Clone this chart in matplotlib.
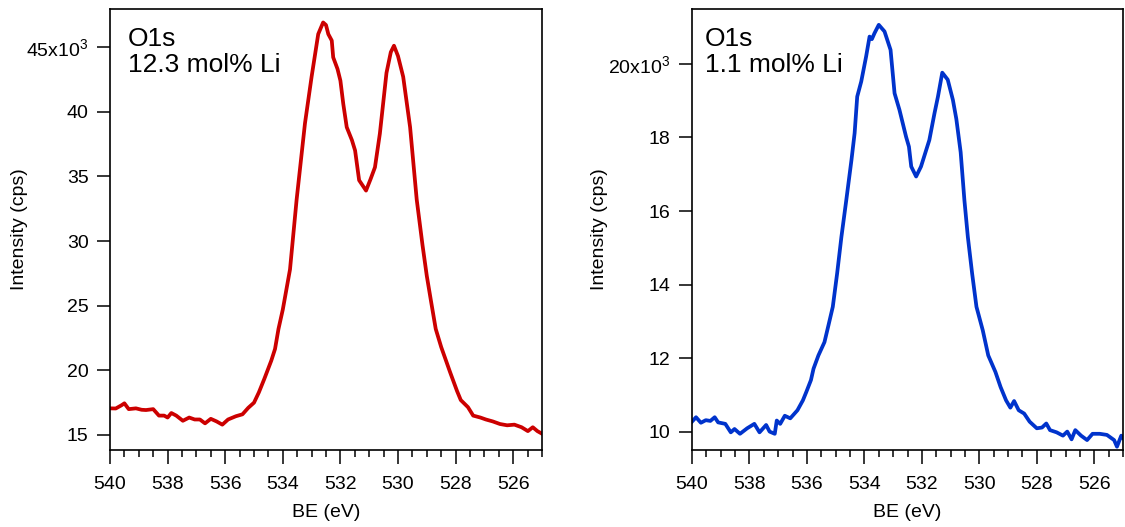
import matplotlib
matplotlib.use('Agg')
import matplotlib.pyplot as plt
from matplotlib.ticker import MultipleLocator, FixedLocator, FixedFormatter

plt.rcParams['font.family'] = ['Liberation Sans', 'DejaVu Sans']
plt.rcParams['mathtext.fontset'] = 'custom'
plt.rcParams['mathtext.rm'] = 'Liberation Sans'
plt.rcParams['mathtext.it'] = 'Liberation Sans'

# O1s, 12.3 mol% Li  (BE in eV, intensity in 10^3 cps)
be_high = [540.0, 539.8, 539.6, 539.5, 539.35, 539.1, 538.9, 538.75, 538.5, 538.3,
           538.12, 538.0, 537.87, 537.7, 537.47, 537.25, 537.06, 536.88, 536.7, 536.5,
           536.3, 536.1, 535.9, 535.63, 535.4, 535.2, 535.0, 534.83, 534.64, 534.4,
           534.27, 534.15, 534.0, 533.75, 533.52, 533.23, 533.0, 532.77, 532.6, 532.5,
           532.42, 532.3, 532.25, 532.1, 532.0, 531.9, 531.78, 531.6, 531.49, 531.35,
           531.11, 530.95, 530.8, 530.63, 530.4, 530.25, 530.14, 530.0, 529.82, 529.58,
           529.35, 529.15, 529.0, 528.85, 528.69, 528.5, 528.19, 527.95, 527.82, 527.57,
           527.39, 527.14, 526.95, 526.71, 526.46, 526.21, 525.96, 525.71, 525.49, 525.32,
           525.16, 525.0]
cps_high = [17.06, 17.05, 17.3, 17.45, 17.0, 17.06, 16.95, 16.93, 17.0, 16.5,
            16.5, 16.35, 16.7, 16.5, 16.1, 16.35, 16.2, 16.2, 15.9, 16.25,
            16.05, 15.8, 16.2, 16.45, 16.6, 17.1, 17.5, 18.3, 19.35, 20.75,
            21.65, 23.2, 24.7, 27.8, 33.2, 39.1, 42.7, 46.0, 46.9, 46.7,
            46.0, 45.5, 44.2, 43.3, 42.4, 40.6, 38.8, 37.8, 37.0, 34.7,
            33.9, 34.8, 35.7, 38.3, 43.0, 44.6, 45.1, 44.3, 42.7, 38.8,
            33.2, 29.7, 27.3, 25.3, 23.2, 21.8, 19.85, 18.4, 17.7, 17.15,
            16.5, 16.35, 16.2, 16.05, 15.85, 15.75, 15.8, 15.6, 15.3, 15.6,
            15.3, 15.1]

# O1s, 1.1 mol% Li
be_low = [540.0, 539.86, 539.69, 539.52, 539.36, 539.21, 539.09, 538.84, 538.65, 538.52,
          538.33, 538.08, 537.83, 537.65, 537.42, 537.3, 537.12, 537.05, 536.93, 536.77,
          536.58, 536.33, 536.14, 536.02, 535.86, 535.77, 535.6, 535.39, 535.25, 535.1,
          534.95, 534.8, 534.63, 534.45, 534.34, 534.25, 534.11, 533.94, 533.82, 533.74,
          533.65, 533.5, 533.3, 533.09, 532.95, 532.78, 532.55, 532.45, 532.37, 532.2,
          532.03, 531.74, 531.56, 531.44, 531.29, 531.1, 530.92, 530.8, 530.65, 530.52,
          530.4, 530.25, 530.1, 529.88, 529.69, 529.44, 529.26, 529.07, 528.92, 528.79,
          528.63, 528.44, 528.25, 528.0, 527.82, 527.67, 527.54, 527.31, 527.09, 526.94,
          526.79, 526.66, 526.46, 526.25, 526.06, 525.81, 525.56, 525.31, 525.21, 525.06,
          525.0]
cps_low = [10.28, 10.4, 10.25, 10.32, 10.3, 10.4, 10.26, 10.22, 9.99, 10.08,
           9.95, 10.1, 10.22, 9.99, 10.19, 10.01, 9.95, 10.31, 10.22, 10.44,
           10.37, 10.59, 10.86, 11.09, 11.41, 11.72, 12.08, 12.44, 12.9, 13.4,
           14.3, 15.3, 16.3, 17.39, 18.12, 19.11, 19.52, 20.2, 20.74, 20.67,
           20.83, 21.06, 20.88, 20.38, 19.2, 18.75, 18.02, 17.75, 17.21, 16.94,
           17.21, 17.93, 18.66, 19.11, 19.76, 19.57, 19.02, 18.5, 17.6, 16.3,
           15.3, 14.3, 13.4, 12.76, 12.08, 11.63, 11.22, 10.86, 10.66, 10.84,
           10.59, 10.5, 10.28, 10.1, 10.12, 10.23, 10.05, 9.99, 9.9, 10.01,
           9.8, 10.05, 9.9, 9.78, 9.95, 9.95, 9.92, 9.78, 9.6, 9.9,
           9.84]

yticks_high = [15, 20, 25, 30, 35, 40, 45]
ylabels_high = ['15', '20', '25', '30', '35', '40', r'45x10$^{\mathrm{3}}$']
yticks_low = [10, 12, 14, 16, 18, 20]
ylabels_low = ['10', '12', '14', '16', '18', r'20x10$^{\mathrm{3}}$']

fig = plt.figure(figsize=(11.25, 5.27), dpi=100)
ax1 = fig.add_axes([110/1125, 1-450/527, 432/1125, 441/527])
ax2 = fig.add_axes([692/1125, 1-450/527, 431/1125, 441/527])

panels = [
    (ax1, be_high, cps_high, '#cc0000', (13.84, 47.94), yticks_high, ylabels_high,
     'O1s\n12.3 mol% Li', 13, -0.189),
    (ax2, be_low, cps_low, '#0033cc', (9.51, 21.49), yticks_low, ylabels_low,
     'O1s\n1.1 mol% Li', 9.5, -0.194),
]

for ax, be, cps, col, ylim, yt, yl, note, dx, lx in panels:
    ax.plot(be, cps, color=col, lw=2.7, solid_joinstyle='round')
    ax.set_xlim(540, 525)
    ax.set_ylim(*ylim)
    ax.xaxis.set_major_locator(MultipleLocator(2))
    ax.xaxis.set_minor_locator(MultipleLocator(0.5))
    ax.yaxis.set_major_locator(FixedLocator(yt))
    ax.yaxis.set_major_formatter(FixedFormatter(yl))
    ax.tick_params(axis='x', which='major', direction='out', length=10, width=1.1,
                   pad=9, labelsize=14)
    ax.tick_params(axis='x', which='minor', direction='out', length=5, width=1.1)
    ax.tick_params(axis='y', which='major', direction='out', length=9.5, width=1.1,
                   pad=6, labelsize=14)
    for s in ax.spines.values():
        s.set_linewidth(1.2)
    ax.set_xlabel('BE (eV)', fontsize=14)
    ax.xaxis.set_label_coords(0.5, -0.122)
    ax.set_ylabel('Intensity (cps)', fontsize=14)
    ax.yaxis.set_label_coords(lx, 0.5)
    ax.annotate(note, xy=(0, 1), xycoords='axes fraction', xytext=(dx, -13),
                textcoords='offset points', ha='left', va='top', fontsize=19,
                linespacing=1.1)

fig.savefig('out.png', dpi=100)
